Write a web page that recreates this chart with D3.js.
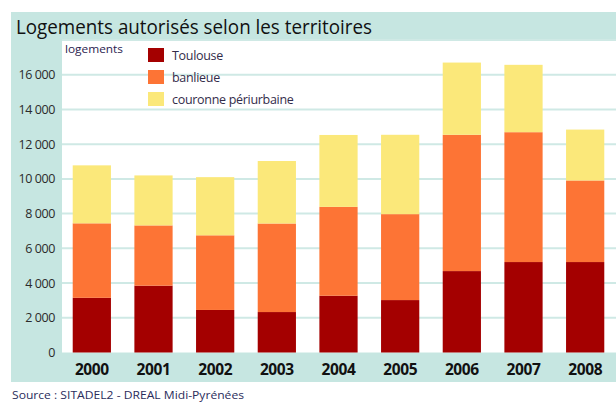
<!DOCTYPE html>
<html>
<head>
<meta charset="utf-8">
<script src="https://cdn.jsdelivr.net/npm/d3@7"></script>
<style>
  html, body { margin: 0; padding: 0; background: #fff; }
  svg { display: block; }
</style>
</head>
<body>
<svg id="chart" width="616" height="403"></svg>
<script>
// Housing permits by territory, 2000-2008
const years = ["2000", "2001", "2002", "2003", "2004", "2005", "2006", "2007", "2008"];
const toulouse = [3150, 3850, 2450, 2330, 3270, 3020, 4690, 5210, 5210];
const banlieue = [4290, 3470, 4300, 5100, 5120, 4950, 7850, 7480, 4700];
const couronne = [3340, 2880, 3350, 3600, 4140, 4570, 4160, 3880, 2930];
const seriesNames = ["Toulouse", "banlieue", "couronne périurbaine"];
const seriesColors = ["#a40000", "#fd7435", "#fbe87a"];
const yTicks = [0, 2000, 4000, 6000, 8000, 10000, 12000, 14000, 16000];

const svg = d3.select("#chart");
const teal = "#c6e6e1";
const plot = { left: 62, right: 616, top: 40, bottom: 352.5 };

// background panel, title band, left axis band and bottom band
svg.append("rect").attr("x", 11).attr("y", 12).attr("width", 605).attr("height", 370).attr("fill", teal);
svg.append("rect").attr("x", plot.left).attr("y", plot.top)
  .attr("width", plot.right - plot.left).attr("height", plot.bottom - plot.top).attr("fill", "#fff");

const x = d3.scaleBand().domain(years).range([plot.left - 1, plot.right]).paddingInner(0.38).paddingOuter(0.19);
const y = d3.scaleLinear().domain([0, 18000]).range([plot.bottom, plot.top]);

// horizontal gridlines
svg.append("g").selectAll("line").data(yTicks.slice(1).concat([18000])).join("line")
  .attr("x1", plot.left).attr("x2", plot.right)
  .attr("y1", d => y(d)).attr("y2", d => y(d))
  .attr("stroke", "#cfe9e5").attr("stroke-width", 2);

// y axis labels
const fmt = d => d === 0 ? "0" : d3.format(",")(d).replace(",", " ");
const yAxis = d3.axisLeft(y).tickValues(yTicks).tickFormat(fmt).tickSize(0).tickPadding(0);
const gy = svg.append("g").attr("transform", "translate(55,0)").call(yAxis);
gy.select(".domain").remove();
gy.selectAll("text").attr("font-family", "'Open Sans', sans-serif").attr("font-size", 12.5)
  .attr("fill", "#2b2b2b").attr("letter-spacing", "-0.4");

// stacked bars
const rows = years.map((yr, i) => ({ year: yr, t: toulouse[i], b: banlieue[i], c: couronne[i] }));
const stack = d3.stack().keys(["t", "b", "c"])(rows);
svg.append("g").selectAll("g").data(stack).join("g")
  .attr("fill", (d, i) => seriesColors[i])
  .selectAll("rect").data(d => d).join("rect")
  .attr("x", d => x(d.data.year))
  .attr("width", x.bandwidth())
  .attr("y", d => y(d[1]))
  .attr("height", d => y(d[0]) - y(d[1]));

// x axis labels
const xAxis = d3.axisBottom(x).tickSize(0).tickPadding(0);
const gx = svg.append("g").attr("transform", `translate(0,${plot.bottom + 11})`).call(xAxis);
gx.select(".domain").remove();
gx.selectAll("text").attr("font-family", "'Open Sans', sans-serif").attr("font-weight", "bold")
  .attr("font-size", 15.5).attr("fill", "#111").attr("dy", "0.71em").attr("letter-spacing", "-0.4");

// title
svg.append("text").attr("x", 16).attr("y", 34)
  .attr("font-family", "'Open Sans', sans-serif").attr("font-size", 19.5).attr("fill", "#111")
  .attr("textLength", 356).attr("lengthAdjust", "spacingAndGlyphs")
  .text("Logements autorisés selon les territoires");

// unit label
svg.append("text").attr("x", 65).attr("y", 53)
  .attr("font-family", "'Open Sans', sans-serif").attr("font-size", 11.5).attr("fill", "#2a2350")
  .attr("textLength", 58).attr("lengthAdjust", "spacingAndGlyphs")
  .text("logements");

// legend
const lg = svg.append("g").selectAll("g").data(seriesNames).join("g")
  .attr("transform", (d, i) => `translate(148,${48 + i * 22})`);
lg.append("rect").attr("width", 16).attr("height", 14).attr("fill", (d, i) => seriesColors[i]);
lg.append("text").attr("x", 24).attr("y", 12)
  .attr("font-family", "'Open Sans', sans-serif").attr("font-size", 12.5).attr("fill", "#332c4a")
  .attr("letter-spacing", "-0.3")
  .text(d => d);

// source
svg.append("text").attr("x", 12).attr("y", 399)
  .attr("font-family", "'Open Sans', sans-serif").attr("font-size", 11.5).attr("fill", "#2a2d5c")
  .attr("textLength", 232).attr("lengthAdjust", "spacingAndGlyphs")
  .text("Source : SITADEL2 - DREAL Midi-Pyrénées");
</script>
</body>
</html>
